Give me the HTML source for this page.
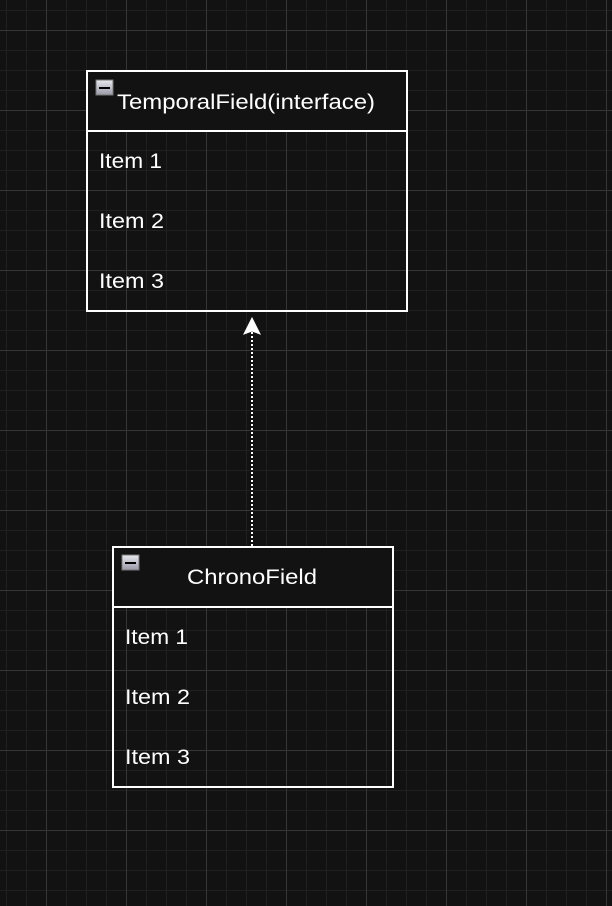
<!DOCTYPE html>
<html><head><style>
html,body{margin:0;padding:0;background:#121212;}
svg{display:block}
text{font-family:"Liberation Sans",Arial,sans-serif;fill:#fff;font-size:21px}
</style></head><body>
<svg width="612" height="906" xmlns="http://www.w3.org/2000/svg">
<defs>
<pattern id="minor" x="6" y="10" width="20" height="20" patternUnits="userSpaceOnUse">
<path d="M0 0V20M0 0H20" stroke="#202020" stroke-width="2" fill="none"/>
</pattern>
<pattern id="major" x="46" y="30" width="80" height="80" patternUnits="userSpaceOnUse">
<path d="M0.5 0V80M0 0.5H80" stroke="#363636" stroke-width="1" fill="none"/>
</pattern>
<linearGradient id="ic" x1="0" y1="0" x2="0" y2="1"><stop offset="0" stop-color="#e8e8ee"/><stop offset="1" stop-color="#9a9aa8"/></linearGradient>
</defs>
<rect width="612" height="906" fill="#121212"/>
<rect width="612" height="906" fill="url(#minor)"/>
<rect width="612" height="906" fill="url(#major)"/>

<!-- Box 1 -->
<rect x="87" y="71" width="320" height="60" fill="#121212"/>
<rect x="87" y="71" width="320" height="240" fill="none" stroke="#fff" stroke-width="2"/>
<line x1="87" y1="131" x2="407" y2="131" stroke="#fff" stroke-width="2"/>
<rect x="96" y="80" width="17" height="15" fill="url(#ic)" stroke="#777" stroke-width="1"/>
<rect x="99" y="87" width="11" height="2" fill="#000"/>
<text x="117" y="109" textLength="258" lengthAdjust="spacingAndGlyphs">TemporalField(interface)</text>
<text x="99" y="168" textLength="63" lengthAdjust="spacingAndGlyphs">Item 1</text>
<text x="99" y="228" textLength="65" lengthAdjust="spacingAndGlyphs">Item 2</text>
<text x="99" y="288" textLength="65" lengthAdjust="spacingAndGlyphs">Item 3</text>

<!-- Box 2 -->
<rect x="113" y="547" width="280" height="60" fill="#121212"/>
<rect x="113" y="547" width="280" height="240" fill="none" stroke="#fff" stroke-width="2"/>
<line x1="113" y1="607" x2="393" y2="607" stroke="#fff" stroke-width="2"/>
<rect x="122" y="555" width="17" height="15" fill="url(#ic)" stroke="#777" stroke-width="1"/>
<rect x="125" y="562" width="11" height="2" fill="#000"/>
<text x="187" y="584" textLength="130" lengthAdjust="spacingAndGlyphs">ChronoField</text>
<text x="125" y="644" textLength="63" lengthAdjust="spacingAndGlyphs">Item 1</text>
<text x="125" y="704" textLength="65" lengthAdjust="spacingAndGlyphs">Item 2</text>
<text x="125" y="764" textLength="65" lengthAdjust="spacingAndGlyphs">Item 3</text>

<!-- Connector -->
<line x1="252" y1="546" x2="252" y2="330" stroke="#fff" stroke-width="2" stroke-dasharray="2 2"/>
<path d="M252 318 L260 334 L252 331 L244 334 Z" fill="#fff" stroke="#fff" stroke-width="1"/>
</svg>
</body></html>
